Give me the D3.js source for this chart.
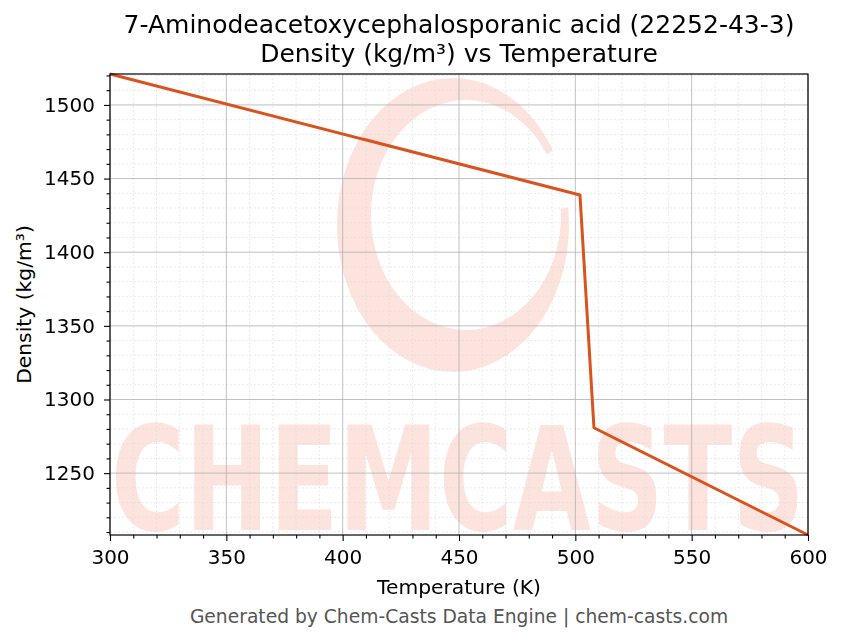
<!DOCTYPE html>
<html>
<head>
<meta charset="utf-8">
<script src="https://cdn.jsdelivr.net/npm/d3@7"></script>
<style>
  body { margin: 0; background: #fff; }
  svg { display: block; font-family: "DejaVu Sans", sans-serif; }
</style>
</head>
<body>
<svg id="chart" width="843" height="644"></svg>
<script>
// data
const temps = [300, 502, 508, 600];
const density = [1521, 1438.8, 1280.8, 1208];
const xTicks = [300, 350, 400, 450, 500, 550, 600];
const yTicks = [1250, 1300, 1350, 1400, 1450, 1500];
const titleLines = ["7-Aminodeacetoxycephalosporanic acid (22252-43-3)", "Density (kg/m\u00b3) vs Temperature"];

const data = temps.map((t, i) => ({ t: t, d: density[i] }));

const margin = { top: 74, right: 35, bottom: 109, left: 110 };
const width = 843 - margin.left - margin.right;   // 698
const height = 644 - margin.top - margin.bottom;  // 461

const svg = d3.select("#chart");
const defs = svg.append("defs");

const x = d3.scaleLinear().domain([300, 600]).range([0, width]);
const y = d3.scaleLinear().domain(d3.extent(density)).range([height, 0]);

const g = svg.append("g").attr("transform", `translate(${margin.left},${margin.top})`);

// keep the watermark inside the plot box
defs.append("clipPath").attr("id", "plotclip")
  .append("rect").attr("width", width).attr("height", height);

// watermark (under the grid)
const wm = g.append("g")
  .attr("clip-path", "url(#plotclip)")
  .attr("opacity", 0.2)
  .attr("fill", "#f5735a");
wm.append("text")
  .attr("x", 1)
  .attr("y", 456)
  .attr("textLength", width - 4)
  .attr("lengthAdjust", "spacingAndGlyphs")
  .style("font-family", "'DejaVu Sans Condensed', 'DejaVu Sans', sans-serif")
  .style("font-weight", "bold")
  .style("font-size", "144px")
  .text("CHEMCASTS");

// brush-ring logo, roughly
const cx = 453 - margin.left, cy = 225 - margin.top;
const outer = `M${cx - 116},${cy} a116,147 0 1,0 232,0 a116,147 0 1,0 -232,0 Z`;
const inner = `M${cx - 82},${cy - 10} a95,115 0 1,0 190,0 a95,115 0 1,0 -190,0 Z`;
defs.append("clipPath").attr("id", "ringclip")
  .append("path")
  .attr("d", `M${cx},${cy} L${cx + 200},${cy - 30} L${cx + 200},${cy + 400} L${cx - 300},${cy + 400} L${cx - 300},${cy - 300} L${cx + 200},${cy - 300} L${cx + 200},${cy - 150} Z`);
wm.append("path")
  .attr("d", outer + inner)
  .attr("fill-rule", "evenodd")
  .attr("clip-path", "url(#ringclip)");

// minor grid
const xMinor = d3.range(300, 601, 10).filter(v => v % 50 !== 0);
const yMinor = d3.range(1210, 1521, 10).filter(v => v % 50 !== 0);

g.append("g").selectAll("line").data(xMinor).enter().append("line")
  .attr("x1", d => x(d)).attr("x2", d => x(d)).attr("y1", 0).attr("y2", height)
  .attr("stroke", "#dcdcdc").attr("stroke-width", 0.6).attr("stroke-dasharray", "2,2");
g.append("g").selectAll("line").data(yMinor).enter().append("line")
  .attr("y1", d => y(d)).attr("y2", d => y(d)).attr("x1", 0).attr("x2", width)
  .attr("stroke", "#dcdcdc").attr("stroke-width", 0.6).attr("stroke-dasharray", "2,2");

// major grid
g.append("g").selectAll("line").data(xTicks).enter().append("line")
  .attr("x1", d => x(d)).attr("x2", d => x(d)).attr("y1", 0).attr("y2", height)
  .attr("stroke", "#b0b0b0").attr("stroke-width", 0.8);
g.append("g").selectAll("line").data(yTicks).enter().append("line")
  .attr("y1", d => y(d)).attr("y2", d => y(d)).attr("x1", 0).attr("x2", width)
  .attr("stroke", "#b0b0b0").attr("stroke-width", 0.8);

// the line
const line = d3.line().x(d => x(d.t)).y(d => y(d.d));
g.append("path")
  .datum(data)
  .attr("fill", "none")
  .attr("stroke", "#d9531e")
  .attr("stroke-width", 3)
  .attr("stroke-linejoin", "round")
  .attr("d", line);

// axes
const xAxis = g.append("g")
  .attr("transform", `translate(0,${height})`)
  .call(d3.axisBottom(x).tickValues(xTicks).tickSize(6).tickPadding(9).tickFormat(d3.format("d")));
const xAxisMinor = g.append("g")
  .attr("transform", `translate(0,${height})`)
  .call(d3.axisBottom(x).tickValues(xMinor).tickSize(3.5).tickFormat(""));
const yAxis = g.append("g")
  .call(d3.axisLeft(y).tickValues(yTicks).tickSize(6).tickPadding(9).tickFormat(d3.format("d")));
const yAxisMinor = g.append("g")
  .call(d3.axisLeft(y).tickValues(yMinor).tickSize(3.5).tickFormat(""));

[xAxisMinor, yAxisMinor].forEach(a => a.selectAll("text").remove());
[xAxis, xAxisMinor, yAxis, yAxisMinor].forEach(a => {
  a.select(".domain").remove();
  a.selectAll(".tick line").attr("stroke", "#000").attr("stroke-width", 1.1);
  a.selectAll("text").style("font-size", "20px").style("font-family", "'DejaVu Sans', sans-serif").attr("fill", "#000");
});

// frame
g.append("rect")
  .attr("width", width).attr("height", height)
  .attr("fill", "none").attr("stroke", "#000").attr("stroke-width", 1.2);

// titles
svg.append("g").selectAll("text").data(titleLines).enter().append("text")
  .attr("x", margin.left + width / 2)
  .attr("y", (d, i) => 33 + i * 29)
  .attr("text-anchor", "middle")
  .style("font-size", "25px")
  .attr("fill", "#000")
  .text(d => d);

svg.append("text")
  .attr("x", margin.left + width / 2)
  .attr("y", 594)
  .attr("text-anchor", "middle")
  .style("font-size", "20.3px")
  .text("Temperature (K)");

svg.append("text")
  .attr("transform", `translate(31,${margin.top + height / 2}) rotate(-90)`)
  .attr("text-anchor", "middle")
  .style("font-size", "20.3px")
  .text("Density (kg/m\u00b3)");

svg.append("text")
  .attr("x", margin.left + width / 2)
  .attr("y", 623)
  .attr("text-anchor", "middle")
  .style("font-size", "18.7px")
  .attr("fill", "#555")
  .text("Generated by Chem-Casts Data Engine | chem-casts.com");
</script>
</body>
</html>
